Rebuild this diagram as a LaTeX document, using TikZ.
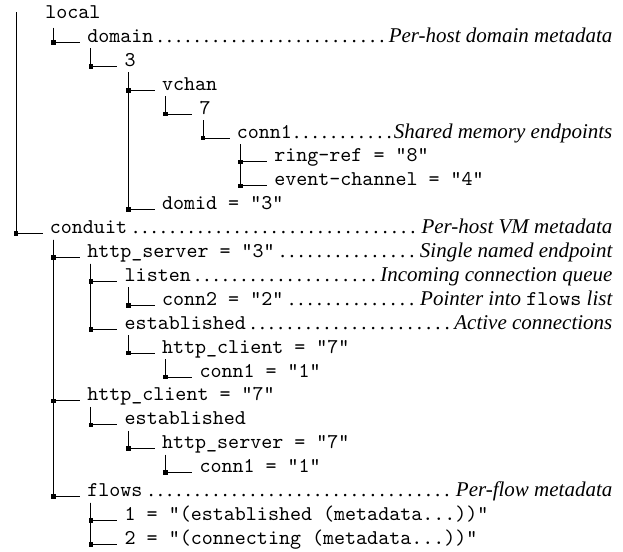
\documentclass[tikz,border=0pt]{standalone}
\usepackage{fontspec}
\setmainfont{Liberation Serif}

\begin{document}
\begin{tikzpicture}[x=0.5pt, y=-0.5pt,
    entry/.style={anchor=base west, inner sep=0pt, font=\fontsize{10.5}{12}\selectfont\ttfamily},
    branch/.style={line width=0.5pt},
    junction/.style={fill, inner sep=0pt, minimum size=2.3pt}]
    \useasboundingbox (0,0) rectangle (623,552);
    \coordinate (root) at (16,12);
    \node[entry] (local) at (45,18.5) {local};
    \node[entry] (domain) at (86.9,42.4) {\makebox[262.55pt][l]{domain{\rmfamily\dotfill\itshape Per-host domain metadata}}};
    \node[entry] (dom3) at (124.3,66.3) {3};
    \node[entry] (vchan) at (161.7,90.2) {vchan};
    \node[entry] (vch7) at (199.1,114.1) {7};
    \node[entry] (conn1a) at (236.5,138.0) {\makebox[187.75pt][l]{conn1{\rmfamily\dotfill\itshape Shared memory endpoints}}};
    \node[entry] (ringref) at (273.9,161.9) {ring-ref = "8"};
    \node[entry] (evtchn) at (273.9,185.8) {event-channel = "4"};
    \node[entry] (domid) at (161.7,209.7) {domid = "3"};
    \node[entry] (conduit) at (49.5,233.6) {\makebox[281.25pt][l]{conduit{\rmfamily\dotfill\itshape Per-host VM metadata}}};
    \node[entry] (server1) at (86.9,257.5) {\makebox[262.55pt][l]{http\_server = "3"{\rmfamily\dotfill\itshape Single named endpoint}}};
    \node[entry] (listen) at (124.3,281.4) {\makebox[243.85pt][l]{listen{\rmfamily\dotfill\itshape Incoming connection queue}}};
    \node[entry] (conn2) at (161.7,305.3) {\makebox[225.15pt][l]{conn2 = "2"{\rmfamily\dotfill\itshape Pointer into {\ttfamily\upshape flows} list}}};
    \node[entry] (est1) at (124.3,329.2) {\makebox[243.85pt][l]{established{\rmfamily\dotfill\itshape Active connections}}};
    \node[entry] (client1) at (161.7,353.1) {http\_client = "7"};
    \node[entry] (conn1b) at (199.1,377.0) {conn1 = "1"};
    \node[entry] (client2) at (86.9,400.9) {http\_client = "7"};
    \node[entry] (est2) at (124.3,424.8) {established};
    \node[entry] (server2) at (161.7,448.7) {http\_server = "7"};
    \node[entry] (conn1c) at (199.1,472.6) {conn1 = "1"};
    \node[entry] (flows) at (86.9,496.5) {\makebox[262.55pt][l]{flows{\rmfamily\dotfill\itshape Per-flow metadata}}};
    \node[entry] (flow1) at (124.3,520.4) {1 = "(established (metadata...))"};
    \node[entry] (flow2) at (124.3,544.3) {2 = "(connecting (metadata...))"};

    % local tree
    \draw[branch] ([shift={(8.4,9)}]local.base west) |- node[junction]{} ([shift={(-7,0)}]domain.base west);
    \draw[branch] ([shift={(3.9,6)}]domain.base west) |- node[junction]{} ([shift={(-7,0)}]dom3.base west);
    \draw[branch] ([shift={(3.9,6)}]dom3.base west) |- node[junction]{} ([shift={(-7,0)}]vchan.base west);
    \draw[branch] ([shift={(3.9,6)}]dom3.base west) |- node[junction]{} ([shift={(-7,0)}]domid.base west);
    \draw[branch] ([shift={(3.9,6)}]vchan.base west) |- node[junction]{} ([shift={(-7,0)}]vch7.base west);
    \draw[branch] ([shift={(3.9,6)}]vch7.base west) |- node[junction]{} ([shift={(-7,0)}]conn1a.base west);
    \draw[branch] ([shift={(3.9,6)}]conn1a.base west) |- node[junction]{} ([shift={(-7,0)}]ringref.base west);
    \draw[branch] ([shift={(3.9,6)}]conn1a.base west) |- node[junction]{} ([shift={(-7,0)}]evtchn.base west);

    % conduit tree
    \draw[branch] (root) |- node[junction]{} ([shift={(-7,0)}]conduit.base west);
    \draw[branch] ([shift={(3.9,6)}]conduit.base west) |- node[junction]{} ([shift={(-7,0)}]server1.base west);
    \draw[branch] ([shift={(3.9,6)}]conduit.base west) |- node[junction]{} ([shift={(-7,0)}]client2.base west);
    \draw[branch] ([shift={(3.9,6)}]conduit.base west) |- node[junction]{} ([shift={(-7,0)}]flows.base west);
    \draw[branch] ([shift={(3.9,6)}]server1.base west) |- node[junction]{} ([shift={(-7,0)}]listen.base west);
    \draw[branch] ([shift={(3.9,6)}]server1.base west) |- node[junction]{} ([shift={(-7,0)}]est1.base west);
    \draw[branch] ([shift={(3.9,6)}]listen.base west) |- node[junction]{} ([shift={(-7,0)}]conn2.base west);
    \draw[branch] ([shift={(3.9,6)}]est1.base west) |- node[junction]{} ([shift={(-7,0)}]client1.base west);
    \draw[branch] ([shift={(3.9,6)}]client1.base west) |- node[junction]{} ([shift={(-7,0)}]conn1b.base west);
    \draw[branch] ([shift={(3.9,6)}]client2.base west) |- node[junction]{} ([shift={(-7,0)}]est2.base west);
    \draw[branch] ([shift={(3.9,6)}]est2.base west) |- node[junction]{} ([shift={(-7,0)}]server2.base west);
    \draw[branch] ([shift={(3.9,6)}]server2.base west) |- node[junction]{} ([shift={(-7,0)}]conn1c.base west);
    \draw[branch] ([shift={(3.9,6)}]flows.base west) |- node[junction]{} ([shift={(-7,0)}]flow1.base west);
    \draw[branch] ([shift={(3.9,6)}]flows.base west) |- node[junction]{} ([shift={(-7,0)}]flow2.base west);
\end{tikzpicture}
\end{document}
